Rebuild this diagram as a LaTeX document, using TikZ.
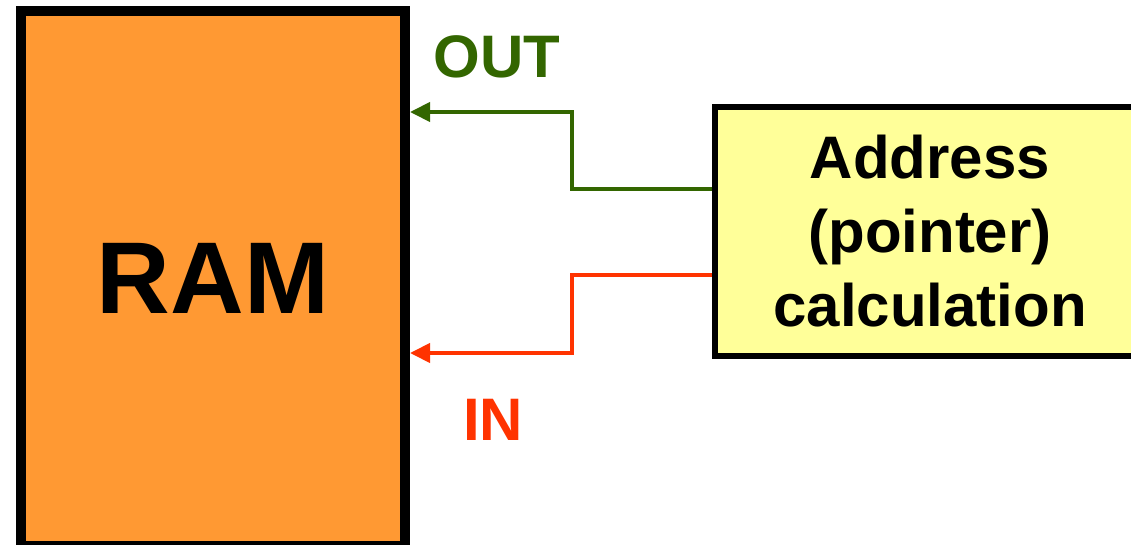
\documentclass[tikz,border=0pt]{standalone}
\usepackage{fontspec}
\setmainfont{Liberation Sans}
\usetikzlibrary{arrows.meta}
\definecolor{ramorange}{HTML}{FF9933}
\definecolor{addryellow}{HTML}{FFFF99}
\definecolor{outgreen}{HTML}{336600}
\definecolor{inred}{HTML}{FF3300}
\begin{document}
\begin{tikzpicture}[x=1pt,y=-1pt,
  rambox/.style={draw=black, line width=10pt, fill=ramorange, minimum width=384pt, minimum height=535pt, inner sep=0pt,
    font=\fontsize{102}{110}\selectfont\bfseries},
  addrbox/.style={draw=black, line width=6pt, fill=addryellow, minimum width=430pt, minimum height=249pt, inner sep=0pt,
    align=center, font=\fontsize{60}{74}\selectfont\bfseries},
  sig/.style={line width=4pt, -{Triangle[length=20pt,width=19pt]}},
  lbl/.style={font=\fontsize{60}{70}\selectfont\bfseries, inner sep=0pt}
]
\useasboundingbox (0,0) rectangle (1131,545);
\node[rambox] (ram) at (213,278.5) {RAM};
\node[addrbox] (addr) at (930,231.5) {Address\\(pointer)\\calculation};
\coordinate (o1) at (0,112);
\coordinate (o2) at (0,189);
\coordinate (i1) at (0,275);
\coordinate (i2) at (0,353);
\draw[sig, outgreen] (addr.west |- o2) -| (572,112) -- (ram.east |- o1);
\draw[sig, inred] (addr.west |- i1) -| (572,353) -- (ram.east |- i2);
\node[lbl, text=outgreen] (outl) at (497,57) {OUT};
\node[lbl, text=inred] (inl) at (493,420) {IN};
\end{tikzpicture}
\end{document}
